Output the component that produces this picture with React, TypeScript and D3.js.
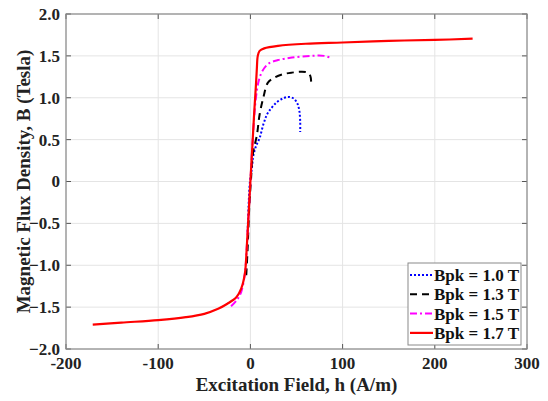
import React, { useEffect, useRef } from 'react';
import * as d3 from 'd3';

// curve points: [h (A/m), B (T)]
const curve10: [number, number][] = [
  [-3, -0.6], [-2, -0.3], [-0.5, 0], [1.5, 0.15], [3, 0.3], [6, 0.42], [10, 0.52],
  [14, 0.68], [18, 0.8], [23, 0.88], [29, 0.95], [35, 0.99], [41, 1.01], [47, 0.99],
  [51, 0.93], [53, 0.85], [54, 0.72], [54, 0.59],
];
const curve13: [number, number][] = [
  [-4.5, -1.12], [-3, -0.8], [-1.2, -0.3], [0.5, 0], [3, 0.35], [7, 0.55], [10, 0.8],
  [14, 1.0], [19, 1.18], [26, 1.24], [35, 1.28], [45, 1.3], [55, 1.31], [62, 1.3],
  [65, 1.26], [66, 1.15],
];
const curve15: [number, number][] = [
  [-21, -1.49], [-15, -1.42], [-10, -1.32], [-6, -1.1], [-4, -0.8], [-2, -0.4], [0, 0],
  [2, 0.4], [4, 0.75], [6, 1.0], [9, 1.2], [13, 1.32], [20, 1.41], [30, 1.45],
  [45, 1.48], [65, 1.5], [80, 1.5], [86, 1.48],
];
const curve17: [number, number][] = [
  [-171, -1.71], [-140, -1.685], [-100, -1.655], [-70, -1.62], [-50, -1.58], [-35, -1.52],
  [-25, -1.46], [-15, -1.38], [-10, -1.28], [-6, -1.1], [-4, -0.8], [-2, -0.4], [0, 0],
  [2, 0.4], [4, 0.8], [6, 1.15], [7, 1.35], [8, 1.5], [10, 1.56], [15, 1.59], [30, 1.62],
  [60, 1.645], [100, 1.66], [150, 1.68], [200, 1.69], [241, 1.705],
];

const seriesNames = ['Bpk = 1.0 T', 'Bpk = 1.3 T', 'Bpk = 1.5 T', 'Bpk = 1.7 T'];
const xTicks = [-200, -100, 0, 100, 200, 300];
const yTicks = [2.0, 1.5, 1.0, 0.5, 0, -0.5, -1.0, -1.5, -2.0];

const W = 548, H = 401;
const margin = { left: 66, right: 21, top: 14, bottom: 52 };
const font = '"Liberation Serif", "Times New Roman", serif';

export default function App() {
  const ref = useRef<SVGSVGElement>(null);

  useEffect(() => {
    const svg = d3.select(ref.current);
    svg.selectAll('*').remove();

    const x = d3.scaleLinear().domain([-200, 300]).range([margin.left, W - margin.right]);
    const y = d3.scaleLinear().domain([-2, 2]).range([H - margin.bottom, margin.top]);

    svg.append('rect').attr('width', W).attr('height', H).attr('fill', '#fff');

    // grid
    const g = svg.append('g');
    g.selectAll('.gx').data(xTicks).enter().append('line')
      .attr('x1', d => x(d)).attr('x2', d => x(d))
      .attr('y1', y(-2)).attr('y2', y(2))
      .attr('stroke', '#e4e4e4').attr('stroke-width', 1);
    g.selectAll('.gy').data(yTicks).enter().append('line')
      .attr('x1', x(-200)).attr('x2', x(300))
      .attr('y1', d => y(d)).attr('y2', d => y(d))
      .attr('stroke', '#e4e4e4').attr('stroke-width', 1);

    // ticks (inward)
    const tk = svg.append('g').attr('stroke', '#555').attr('stroke-width', 1);
    xTicks.forEach(t => {
      tk.append('line').attr('x1', x(t)).attr('x2', x(t)).attr('y1', y(-2)).attr('y2', y(-2) - 5);
      tk.append('line').attr('x1', x(t)).attr('x2', x(t)).attr('y1', y(2)).attr('y2', y(2) + 5);
    });
    yTicks.forEach(t => {
      tk.append('line').attr('x1', x(-200)).attr('x2', x(-200) + 5).attr('y1', y(t)).attr('y2', y(t));
      tk.append('line').attr('x1', x(300)).attr('x2', x(300) - 5).attr('y1', y(t)).attr('y2', y(t));
    });

    // curves
    const line = d3.line<[number, number]>()
      .x(d => x(d[0])).y(d => y(d[1]))
      .curve(d3.curveCatmullRom.alpha(0.5));

    const styles = [
      { data: curve10, color: '#0000ff', dash: '2,2', w: 2 },
      { data: curve13, color: '#000000', dash: '7,5', w: 2 },
      { data: curve15, color: '#ff00ff', dash: '7,3,2,3', w: 2 },
      { data: curve17, color: '#ff0000', dash: null, w: 2.2 },
    ];
    const plot = svg.append('g');
    styles.forEach(s => {
      plot.append('path').attr('d', line(s.data) as string)
        .attr('fill', 'none').attr('stroke', s.color).attr('stroke-width', s.w)
        .attr('stroke-dasharray', s.dash);
    });

    // box
    svg.append('rect')
      .attr('x', x(-200)).attr('y', y(2))
      .attr('width', x(300) - x(-200)).attr('height', y(-2) - y(2))
      .attr('fill', 'none').attr('stroke', '#8a8a8a').attr('stroke-width', 1.2);

    // tick labels
    svg.append('g').selectAll('text').data(yTicks).enter().append('text')
      .attr('x', x(-200) - 6).attr('y', d => y(d)).attr('dy', '0.35em')
      .attr('text-anchor', 'end')
      .attr('font-family', font).attr('font-weight', 'bold').attr('font-size', 17)
      .attr('fill', '#222')
      .text(d => (d === 0 ? '0' : d3.format('.1f')(d)));
    svg.append('g').selectAll('text').data(xTicks).enter().append('text')
      .attr('x', d => x(d)).attr('y', y(-2) + 20)
      .attr('text-anchor', 'middle')
      .attr('font-family', font).attr('font-weight', 'bold').attr('font-size', 17)
      .attr('fill', '#222')
      .text(d => String(d));

    // axis titles
    svg.append('text')
      .attr('x', (x(-200) + x(300)) / 2).attr('y', 391)
      .attr('text-anchor', 'middle')
      .attr('font-family', font).attr('font-weight', 'bold').attr('font-size', 19)
      .attr('fill', '#222')
      .text('Excitation Field, h (A/m)');
    svg.append('text')
      .attr('transform', `translate(30,${(y(-2) + y(2)) / 2}) rotate(-90)`)
      .attr('text-anchor', 'middle')
      .attr('font-family', font).attr('font-weight', 'bold').attr('font-size', 19)
      .attr('fill', '#222')
      .text('Magnetic Flux Density, B (Tesla)');

    // legend
    const lg = svg.append('g');
    lg.append('rect').attr('x', 408).attr('y', 263).attr('width', 113).attr('height', 82)
      .attr('fill', '#fff').attr('stroke', '#8a8a8a').attr('stroke-width', 1);
    styles.forEach((s, i) => {
      const yy = 275 + i * 19.3;
      lg.append('line').attr('x1', 410).attr('x2', 433).attr('y1', yy).attr('y2', yy)
        .attr('stroke', s.color).attr('stroke-width', s.w).attr('stroke-dasharray', s.dash);
      lg.append('text').attr('x', 434).attr('y', yy).attr('dy', '0.35em')
        .attr('font-family', font).attr('font-weight', 'bold').attr('font-size', 17)
        .attr('fill', '#111')
        .text(seriesNames[i]);
    });
  }, []);

  return (
    <svg ref={ref} width={W} height={H}
      style={{ position: 'absolute', left: 0, top: 0 }} />
  );
}
